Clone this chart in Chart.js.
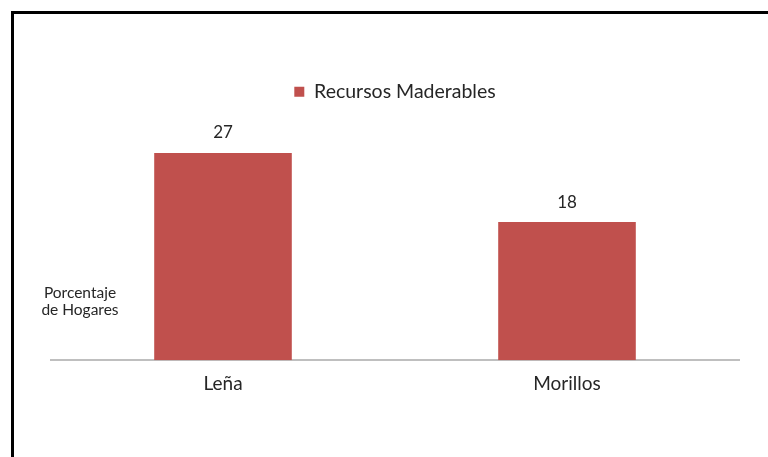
<!DOCTYPE html>
<html>
<head>
<meta charset="utf-8">
<script src="https://cdn.jsdelivr.net/npm/chart.js@4.4.1/dist/chart.umd.min.js"></script>
<style>
    body { margin: 0; background: #fff; }
    #wrap { position: relative; width: 768px; height: 457px; }
    #frame { position: absolute; left: 11px; top: 11px; right: 0; bottom: 0; border-left: 3px solid #000; border-top: 3px solid #000; pointer-events: none; }
    #yTitle { position: absolute; left: 20px; top: 284px; width: 120px; text-align: center; font-family: Lato, sans-serif; font-size: 15.5px; line-height: 17px; color: #262626; }
</style>
</head>
<body>
<div id="wrap">
    <canvas id="woodChart" width="768" height="457"></canvas>
    <div id="frame"></div>
    <div id="yTitle">Porcentaje<br>de Hogares</div>
</div>
<script>
    const categories = ['Leña', 'Morillos'];
    const seriesName = 'Recursos Maderables';
    const values = [27, 18];

    // value labels above each bar
    const barLabels = {
        id: 'barLabels',
        afterDatasetsDraw(chart) {
            const ctx = chart.ctx;
            const meta = chart.getDatasetMeta(0);
            ctx.save();
            ctx.font = '17px Lato, sans-serif';
            ctx.fillStyle = '#262626';
            ctx.textAlign = 'center';
            ctx.textBaseline = 'middle';
            meta.data.forEach((bar, i) => {
                ctx.fillText(values[i], bar.x, bar.y - 20);
            });
            ctx.restore();
        }
    };

    const ctx = document.getElementById('woodChart').getContext('2d');
    const myChart = new Chart(ctx, {
        type: 'bar',
        data: {
            labels: categories,
            datasets: [{
                label: seriesName,
                data: values,
                backgroundColor: '#C0504D',
                borderWidth: 0,
                barPercentage: 0.4,
                categoryPercentage: 1
            }]
        },
        options: {
            responsive: false,
            animation: false,
            layout: { padding: { left: 51, right: 29, top: 72, bottom: 58 } },
            plugins: {
                legend: {
                    display: true,
                    position: 'top',
                    labels: {
                        boxWidth: 10,
                        boxHeight: 10,
                        color: '#262626',
                        font: { family: 'Lato', size: 19.5 },
                        padding: 10
                    }
                },
                tooltip: { enabled: false }
            },
            scales: {
                x: {
                    grid: { display: false },
                    border: { display: true, color: '#bfbfbf', width: 2 },
                    ticks: { color: '#262626', font: { family: 'Lato', size: 19 }, padding: 4 }
                },
                y: {
                    display: false,
                    min: 0,
                    max: 32.4
                }
            }
        },
        plugins: [barLabels]
    });
</script>
</body>
</html>
